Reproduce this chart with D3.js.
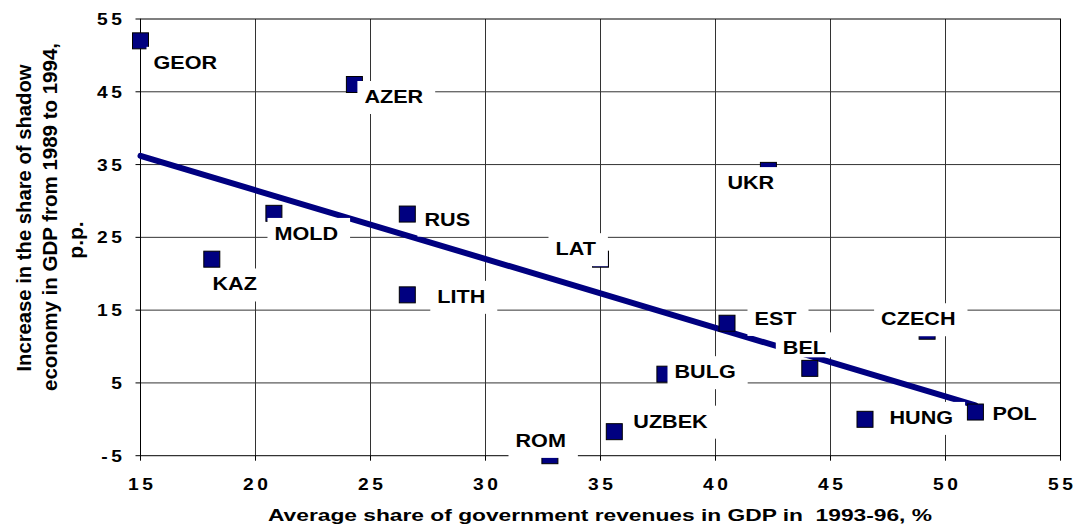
<!DOCTYPE html>
<html lang="en">
<head>
<meta charset="UTF-8">
<title>Shadow economy vs government revenues</title>
<script src="https://cdn.jsdelivr.net/npm/d3@7"></script>
<style>
    body { margin: 0; background: #fff; }
    svg text { font-family: Arial, "Liberation Sans", sans-serif; font-weight: bold; fill: #000; white-space: pre; }
</style>
</head>
<body>
<svg width="1079" height="532"></svg>
<script>
    // values
    const countries = ["GEOR", "AZER", "UKR", "MOLD", "KAZ", "RUS", "LAT", "LITH", "EST", "CZECH", "BEL", "BULG", "UZBEK", "ROM", "HUNG", "POL"];
    const govRevenue = [15.0, 24.3, 42.3, 20.8, 18.1, 26.6, 35.0, 26.6, 40.5, 49.2, 44.1, 37.8, 35.6, 32.8, 46.5, 51.3];
    const shadowIncrease = [52.0, 46.0, 34.2, 28.3, 22.0, 28.2, 22.0, 17.1, 13.2, 12.1, 7.0, 6.2, -1.7, -5.0, 0.0, 1.0];
    // fitted trend line, end points as seen on the chart
    const trendX = [15, 51.3];
    const trendY = [36.2, 1.9];
    const xTicks = [15, 20, 25, 30, 35, 40, 45, 50, 55];
    const yTicks = [55, 45, 35, 25, 15, 5, -5];
    const xTitle = "Average share of government revenues in GDP in  1993-96, %";
    const yTitle = ["Increase in the share of shadow", "economy in GDP from 1989 to 1994,", "p.p."];

    // where each data label sits relative to its marker (px)
    const labelOffset = {
        GEOR: [13, 28], AZER: [10, 18.5], UKR: [-41, 18.7], MOLD: [0.6, 26.6],
        KAZ: [0.7, 31.3], RUS: [17.2, 11.6], LAT: [-45, -4], LITH: [30, 8],
        EST: [27.5, 1.7], CZECH: [-46, -6], BEL: [-27, -14], BULG: [9.6, 4],
        UZBEK: [19, -4], ROM: [-34.4, -8.8], HUNG: [24.5, 4.6], POL: [17, 8]
    };

    const navy = "#000080";
    const svg = d3.select("svg");

    const x = d3.scaleLinear().domain([15, 55]).range([140.5, 1060.5]);
    const y = d3.scaleLinear().domain([-5, 55]).range([455.7, 19]);

    // text drawn a bit wider than the font, like the original
    function wideText(g, px, py, str, size, sx, anchor, ls) {
        return g.append("text")
            .attr("transform", `translate(${px},${py}) scale(${sx},1)`)
            .attr("text-anchor", anchor)
            .style("font-size", size + "px")
            .style("letter-spacing", (ls || 0) + "px")
            .text(str);
    }

    // grid
    const grid = svg.append("g").attr("stroke", "#333").attr("stroke-width", 1);
    grid.selectAll(".vg").data(xTicks.slice(1, -1)).enter().append("line")
        .attr("x1", d => x(d)).attr("x2", d => x(d))
        .attr("y1", y(55)).attr("y2", y(-5));
    grid.selectAll(".hg").data(yTicks.slice(1, -1)).enter().append("line")
        .attr("x1", x(15)).attr("x2", x(55))
        .attr("y1", d => y(d)).attr("y2", d => y(d));

    // frame + axes
    svg.append("rect")
        .attr("x", x(15)).attr("y", y(55))
        .attr("width", x(55) - x(15)).attr("height", y(-5) - y(55))
        .attr("fill", "none").attr("stroke", "#000").attr("stroke-width", 1);

    const ticks = svg.append("g").attr("stroke", "#000").attr("stroke-width", 1);
    ticks.selectAll(".yt").data(yTicks).enter().append("line")
        .attr("x1", x(15) - 5).attr("x2", x(15))
        .attr("y1", d => y(d)).attr("y2", d => y(d));
    ticks.selectAll(".xt").data(xTicks).enter().append("line")
        .attr("x1", d => x(d)).attr("x2", d => x(d))
        .attr("y1", y(-5)).attr("y2", y(-5) + 5);

    const tickLabels = svg.append("g");
    yTicks.forEach(function (d) {
        wideText(tickLabels, 122 + 3.6, y(d) + 6, String(d), 16, 1.2, "end", 3);
    });
    xTicks.forEach(function (d) {
        wideText(tickLabels, x(d) + 1.8, 490, String(d), 16, 1.2, "middle", 3);
    });

    // trend line
    svg.append("line")
        .attr("x1", x(trendX[0])).attr("y1", y(trendY[0]))
        .attr("x2", x(trendX[1])).attr("y2", y(trendY[1]))
        .attr("stroke", navy).attr("stroke-width", 6).attr("stroke-linecap", "round");

    // markers
    const points = countries.map((c, i) => ({name: c, gx: govRevenue[i], sy: shadowIncrease[i]}));
    svg.append("g").selectAll("rect").data(points).enter().append("rect")
        .attr("x", d => x(d.gx) - 8).attr("y", d => y(d.sy) - 8)
        .attr("width", 16).attr("height", 16)
        .attr("fill", navy).attr("stroke", "#000").attr("stroke-width", 1);

    // data labels on white boxes
    const boxLayer = svg.append("g");
    const textLayer = svg.append("g");
    points.forEach(function (d) {
        const off = labelOffset[d.name];
        const tx = x(d.gx) + off[0], ty = y(d.sy) + off[1];
        const t = wideText(textLayer, tx, ty, d.name, 18, 1.2, "start", 0);
        const w = t.node().getComputedTextLength() * 1.2;
        const bottom = d.name === "BEL" ? 3 : 11;
        boxLayer.append("rect")
            .attr("x", tx - 7).attr("y", ty - 22)
            .attr("width", w + 19).attr("height", 22 + bottom)
            .attr("fill", "#fff");
    });

    // axis titles
    svg.append("text")
        .attr("x", 600).attr("y", 521)
        .attr("text-anchor", "middle")
        .attr("textLength", 664).attr("lengthAdjust", "spacingAndGlyphs")
        .style("font-size", "17px")
        .text(xTitle);

    const yLines = [{bx: 31, cy: 218, len: 307}, {bx: 57, cy: 217, len: 348}, {bx: 83, cy: 240, len: 0}];
    yTitle.forEach(function (s, i) {
        const l = yLines[i];
        const t = svg.append("text")
            .attr("transform", `translate(${l.bx},${l.cy}) rotate(-90)`)
            .attr("text-anchor", "middle")
            .style("font-size", "21px")
            .text(s);
        if (l.len) t.attr("textLength", l.len).attr("lengthAdjust", "spacingAndGlyphs");
    });
</script>
</body>
</html>
